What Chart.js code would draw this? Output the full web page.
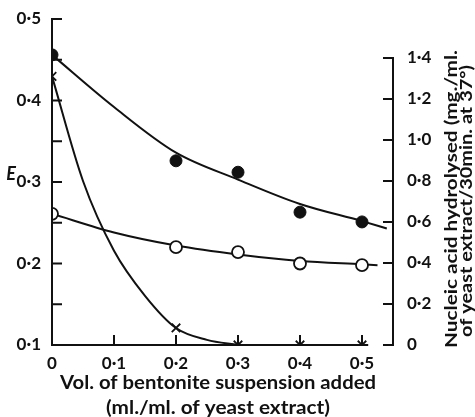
<!DOCTYPE html>
<html>
<head>
<meta charset="utf-8">
<script src="https://cdn.jsdelivr.net/npm/chart.js@4"></script>
<style>
  html, body { margin: 0; padding: 0; background: #fff; }
  #chart { display: block; }
</style>
</head>
<body>
<canvas id="chart" width="475" height="417"></canvas>
<script>
// measured points
const volumes = [0, 0.2, 0.3, 0.4, 0.5];
const eFilled = [0.456, 0.326, 0.312, 0.263, 0.251];
const eOpen = [0.261, 0.220, 0.214, 0.200, 0.198];
const nucleicHydrolysed = [1.31, 0.083, 0, 0, 0];

// hand-drawn fitted curves
const fitFilledX = [0, 0.1, 0.2, 0.3, 0.4, 0.5, 0.54];
const fitFilledE = [0.456, 0.392, 0.336, 0.303, 0.273, 0.252, 0.243];
const fitOpenX = [0, 0.1, 0.2, 0.3, 0.4, 0.5, 0.525];
const fitOpenE = [0.261, 0.238, 0.222, 0.211, 0.203, 0.199, 0.198];
const fitNucleicX = [0, 0.05, 0.1, 0.15, 0.2, 0.25, 0.3];
const fitNucleic = [1.31, 0.80, 0.46, 0.24, 0.083, 0.025, 0];

// tick labels
const xTicks = [0, 0.1, 0.2, 0.3, 0.4, 0.5];
const eTicks = [0.1, 0.2, 0.3, 0.4, 0.5];
const eMinorTicks = [0.15, 0.25, 0.35, 0.45];
const nucleicTicks = [0, 0.2, 0.4, 0.6, 0.8, 1.0, 1.2, 1.4];

const INK = "#111";
const FONT = "Lato";

const pts = (xs, ys) => xs.map((x, i) => ({ x: x, y: ys[i] }));
const fmt = v => (v === 0 ? "0" : v.toFixed(1).replace(".", "\u00b7"));

// centred text at a given font size, stretched sideways to span `width` px
function fitText(ctx, text, cx, cy, width, size) {
  ctx.font = "bold " + size + "px " + FONT;
  const sx = width / ctx.measureText(text).width;
  ctx.save();
  ctx.translate(cx, cy);
  ctx.scale(sx, 1);
  ctx.fillText(text, 0, 0);
  ctx.restore();
}

const axesPlugin = {
  id: "paperAxes",
  afterDraw(chart) {
    const { ctx, chartArea, scales } = chart;
    const x = scales.x, y = scales.y, y2 = scales.y2;
    const tl = 10;
    ctx.save();
    ctx.strokeStyle = INK;
    ctx.lineWidth = 2;
    ctx.lineCap = "butt";
    ctx.beginPath();
    // left axis
    ctx.moveTo(chartArea.left, y.getPixelForValue(0.5) - 1);
    ctx.lineTo(chartArea.left, y.getPixelForValue(0.1) + 1);
    // bottom axis
    ctx.moveTo(chartArea.left, y.getPixelForValue(0.1));
    ctx.lineTo(x.getPixelForValue(0.51), y.getPixelForValue(0.1));
    // right axis
    ctx.moveTo(chartArea.right, y2.getPixelForValue(1.4) - 1);
    ctx.lineTo(chartArea.right, y2.getPixelForValue(0) + 1);
    eTicks.concat(eMinorTicks).forEach(v => {
      const py = y.getPixelForValue(v);
      ctx.moveTo(chartArea.left, py);
      ctx.lineTo(chartArea.left + tl, py);
    });
    xTicks.slice(1).forEach(v => {
      const px = x.getPixelForValue(v);
      ctx.moveTo(px, chartArea.bottom);
      ctx.lineTo(px, chartArea.bottom - tl);
    });
    nucleicTicks.forEach(v => {
      const py = y2.getPixelForValue(v);
      ctx.moveTo(chartArea.right, py);
      ctx.lineTo(chartArea.right - tl, py);
    });
    ctx.stroke();

    ctx.fillStyle = INK;
    ctx.textAlign = "center";
    ctx.textBaseline = "middle";
    ctx.font = "italic bold 18px " + FONT;
    ctx.fillText("E", 11, 174);
    fitText(ctx, "Vol. of bentonite suspension added", 218, 383, 316, 18);
    fitText(ctx, "(ml./ml. of yeast extract)", 218, 408, 224, 18);
    ctx.translate(0, 0);
    ctx.save();
    ctx.translate(452, 199);
    ctx.rotate(-Math.PI / 2);
    fitText(ctx, "Nucleic acid hydrolysed (mg./ml.", 0, 0, 298, 17);
    fitText(ctx, "of yeast extract/30min. at 37\u00b0)", -2, 15, 272, 17);
    ctx.restore();
    ctx.restore();
  }
};

const tickFont = { family: FONT, size: 17, weight: "bold" };

new Chart(document.getElementById("chart"), {
  type: "scatter",
  data: {
    datasets: [
      {
        data: pts(volumes, eFilled),
        yAxisID: "y",
        pointStyle: "circle",
        pointRadius: 6,
        backgroundColor: INK,
        borderColor: INK,
        borderWidth: 1
      },
      {
        data: pts(volumes, eOpen),
        yAxisID: "y",
        pointStyle: "circle",
        pointRadius: 6,
        backgroundColor: "#fff",
        borderColor: INK,
        borderWidth: 1.8
      },
      {
        data: pts(volumes, nucleicHydrolysed),
        yAxisID: "y2",
        pointStyle: "crossRot",
        pointRadius: 6,
        borderColor: INK,
        borderWidth: 1.8
      },
      {
        type: "line",
        data: pts(fitFilledX, fitFilledE),
        yAxisID: "y",
        borderColor: INK,
        borderWidth: 2,
        pointRadius: 0,
        cubicInterpolationMode: "monotone",
        fill: false
      },
      {
        type: "line",
        data: pts(fitOpenX, fitOpenE),
        yAxisID: "y",
        borderColor: INK,
        borderWidth: 2,
        pointRadius: 0,
        cubicInterpolationMode: "monotone",
        fill: false
      },
      {
        type: "line",
        data: pts(fitNucleicX, fitNucleic),
        yAxisID: "y2",
        borderColor: INK,
        borderWidth: 2,
        pointRadius: 0,
        cubicInterpolationMode: "monotone",
        fill: false
      }
    ]
  },
  options: {
    responsive: false,
    animation: false,
    layout: { padding: { top: 19, left: 0, right: 0, bottom: 0 } },
    plugins: { legend: { display: false }, tooltip: { enabled: false } },
    scales: {
      x: {
        type: "linear",
        min: 0,
        max: 0.55,
        grid: { display: false },
        border: { display: false },
        afterBuildTicks: s => { s.ticks = xTicks.map(v => ({ value: v })); },
        afterFit: s => { s.height = 72; },
        ticks: { font: tickFont, color: INK, padding: 0, maxRotation: 0, callback: v => fmt(v) }
      },
      y: {
        position: "left",
        min: 0.1,
        max: 0.5,
        grid: { display: false },
        border: { display: false },
        afterBuildTicks: s => { s.ticks = eTicks.map(v => ({ value: v })); },
        afterFit: s => { s.width = 52; },
        ticks: { font: tickFont, color: INK, padding: 3, callback: v => fmt(v) }
      },
      y2: {
        position: "right",
        min: 0,
        max: 1.59,
        grid: { display: false },
        border: { display: false },
        afterBuildTicks: s => { s.ticks = nucleicTicks.map(v => ({ value: v })); },
        afterFit: s => { s.width = 82; },
        ticks: { font: tickFont, color: INK, padding: 6, callback: v => fmt(v) }
      }
    }
  },
  plugins: [axesPlugin]
});
</script>
</body>
</html>
